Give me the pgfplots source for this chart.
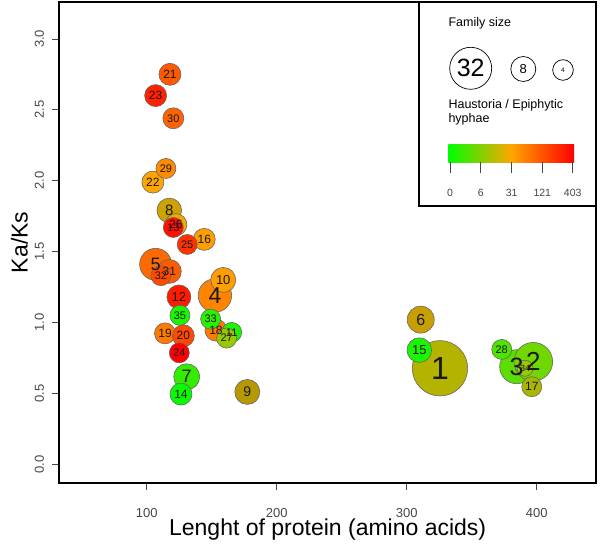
\documentclass[border=0pt]{standalone}
\usepackage{pgfplots}
\pgfplotsset{compat=1.18}
\usepackage{fontspec}
\setmainfont{Liberation Sans}
\definecolor{cgreen}{RGB}{0,255,0}
\definecolor{corange}{RGB}{255,165,0}
\definecolor{cred}{RGB}{255,0,0}
\definecolor{tickgray}{RGB}{70,70,70}
% data: \bub{length}{Ka/Ks}{radius pt}{fill colour (green-orange-red scale)}{family}{label font size}
\newcommand{\bubbledata}{%
\bub{117.9}{2.750}{11}{cred!46!corange}{21}{12}
\bub{106.9}{2.600}{11}{cred!80!corange}{23}{12}
\bub{120.5}{2.440}{10.5}{cred!40!corange}{30}{11}
\bub{104.8}{1.990}{11}{corange}{22}{12}
\bub{114.8}{2.086}{10}{cred!16!corange}{29}{11}
\bub{117.4}{1.790}{12.3}{corange!88!cgreen!92!black}{8}{15}
\bub{122.5}{1.690}{11}{corange!94!cgreen}{26}{12}
\bub{120.5}{1.670}{10}{cred!90!corange}{13}{11}
\bub{144.3}{1.586}{11}{cred!4!corange}{16}{12}
\bub{131.2}{1.550}{10}{cred!70!corange}{25}{11}
\bub{106.9}{1.410}{16}{cred!36!corange}{5}{18}
\bub{117.4}{1.360}{12}{cred!44!corange}{31}{12}
\bub{111.0}{1.330}{10}{cred!56!corange}{32}{11}
\bub{152.5}{1.190}{16.7}{cred!20!corange}{4}{23}
\bub{158.9}{1.300}{12.5}{cred!4!corange}{10}{13}
\bub{124.8}{1.180}{12}{cred!84!corange}{12}{13}
\bub{125.6}{1.050}{10}{corange!10!cgreen}{35}{11}
\bub{153.3}{0.946}{11}{cred!26!corange}{18}{12}
\bub{149.2}{1.024}{10}{corange!16!cgreen}{33}{11}
\bub{165.4}{0.930}{10}{corange!10!cgreen}{11}{11}
\bub{161.5}{0.890}{10}{corange!60!cgreen}{27}{11}
\bub{114.1}{0.923}{10.5}{cred!26!corange}{19}{12}
\bub{128.2}{0.906}{11}{cred!56!corange}{20}{12}
\bub{125.1}{0.786}{10}{cred}{24}{11}
\bub{130.8}{0.617}{13}{corange!20!cgreen}{7}{18}
\bub{126.4}{0.495}{11}{corange!4!cgreen}{14}{12}
\bub{177.4}{0.510}{12.5}{corange!84!cgreen!85!black}{9}{14}
\bub{310.8}{1.020}{13.5}{corange!87!cgreen!90!black}{6}{16}
\bub{325.6}{0.677}{27.7}{corange!74!cgreen!95!black}{1}{32}
\bub{309.7}{0.805}{12.3}{corange!10!cgreen}{15}{13}
\bub{384.6}{0.688}{17}{corange!36!cgreen}{3}{25}
\bub{397.4}{0.723}{19.3}{corange!44!cgreen}{2}{26}
\bub{373.1}{0.810}{10}{corange!30!cgreen}{28}{11}
\bub{391.0}{0.677}{8}{corange!60!cgreen}{34}{9}
\bub{396.2}{0.547}{10}{corange!70!cgreen!95!black}{17}{12}
}
% pass 1: circles
\newcommand{\bubcircle}[6]{%
  \addplot[only marks, mark=*, mark size=#3,
    mark options={draw=black!60, fill=#4, line width=0.6pt}]
    coordinates {(#1,#2)};}
% pass 2: labels on top of all circles
\newcommand{\bublabel}[6]{%
  \addplot[only marks, mark=none, nodes near coords={#5},
    every node near coord/.style={anchor=center, inner sep=0pt, text=black!90,
      font=\fontsize{#6}{#6}\selectfont}]
    coordinates {(#1,#2)};}
\begin{document}
\begin{tikzpicture}
\path[use as bounding box] (-59.3pt,-64.3pt) rectangle (540.7pt,482.7pt);
\begin{axis}[
  at={(0,0)}, anchor=south west,
  scale only axis, width=536.7pt, height=480.7pt,
  xmin=32.8, xmax=445.6, ymin=-0.13, ymax=3.26,
  axis line style={line width=2.2pt},
  xtick={100,200,300,400}, ytick={0,0.5,1,1.5,2,2.5,3},
  xtick pos=bottom, ytick pos=left, tick align=outside,
  major tick length=7pt, tick style={tickgray, line width=0.6pt},
  /pgf/number format/assume math mode=true,
  ticklabel style={font=\fontsize{13}{13}\selectfont, text=tickgray},
  yticklabel style={/pgf/number format/fixed, /pgf/number format/fixed zerofill, /pgf/number format/precision=1, rotate=90, anchor=south, inner sep=0pt},
  xticklabel style={anchor=north, inner sep=0pt},
  xticklabel shift=19pt, yticklabel shift=8pt,
  xlabel={Lenght of protein (amino acids)}, ylabel={Ka/Ks},
  label style={font=\fontsize{23}{23}\selectfont},
  xlabel style={at={(axis description cs:0.5,-0.1088)}, anchor=base},
  ylabel style={at={(axis description cs:-0.0745,0.5)}, anchor=center},
]
\let\bub\bubcircle
\bubbledata
\let\bub\bublabel
\bubbledata
\end{axis}
% legend
\draw[line width=2.2pt, fill=white] (359.7pt,276.7pt) rectangle (536.7pt,480.7pt);
\node[anchor=base west, font=\fontsize{12.5}{12.5}\selectfont] at (385.7pt,456pt) {Family size};
\draw[line width=0.7pt] (411.4pt,414.4pt) circle (21pt);
\node[font=\fontsize{25}{25}\selectfont] at (411.4pt,414.4pt) {32};
\draw[line width=0.7pt] (464pt,413.7pt) circle (12.5pt);
\node[font=\fontsize{13}{13}\selectfont] at (464pt,413.7pt) {8};
\draw[line width=0.7pt] (503.7pt,412.7pt) circle (10.3pt);
\node[font=\fontsize{6.5}{6.5}\selectfont] at (503.7pt,412.7pt) {4};
\node[anchor=base west, font=\fontsize{12.5}{12.5}\selectfont] at (385.7pt,374.4pt) {Haustoria / Epiphytic};
\node[anchor=base west, font=\fontsize{12.5}{12.5}\selectfont] at (385.7pt,360pt) {hyphae};
\shade[left color=cgreen, right color=corange] (389pt,320.4pt) rectangle (451.85pt,337.7pt);
\shade[left color=corange, right color=cred] (451.85pt,320.4pt) rectangle (514.7pt,337.7pt);
\foreach \xx/\lbl in {390.7/0, 421.4/6, 452.4/31, 483/121, 513.4/403} {
  \draw[tickgray, line width=0.6pt] (\xx pt,320.4pt) -- (\xx pt,310pt);
  \node[text=tickgray, font=\fontsize{10.5}{10.5}\selectfont] at (\xx pt,290pt) {\lbl};
}
\end{tikzpicture}
\end{document}
